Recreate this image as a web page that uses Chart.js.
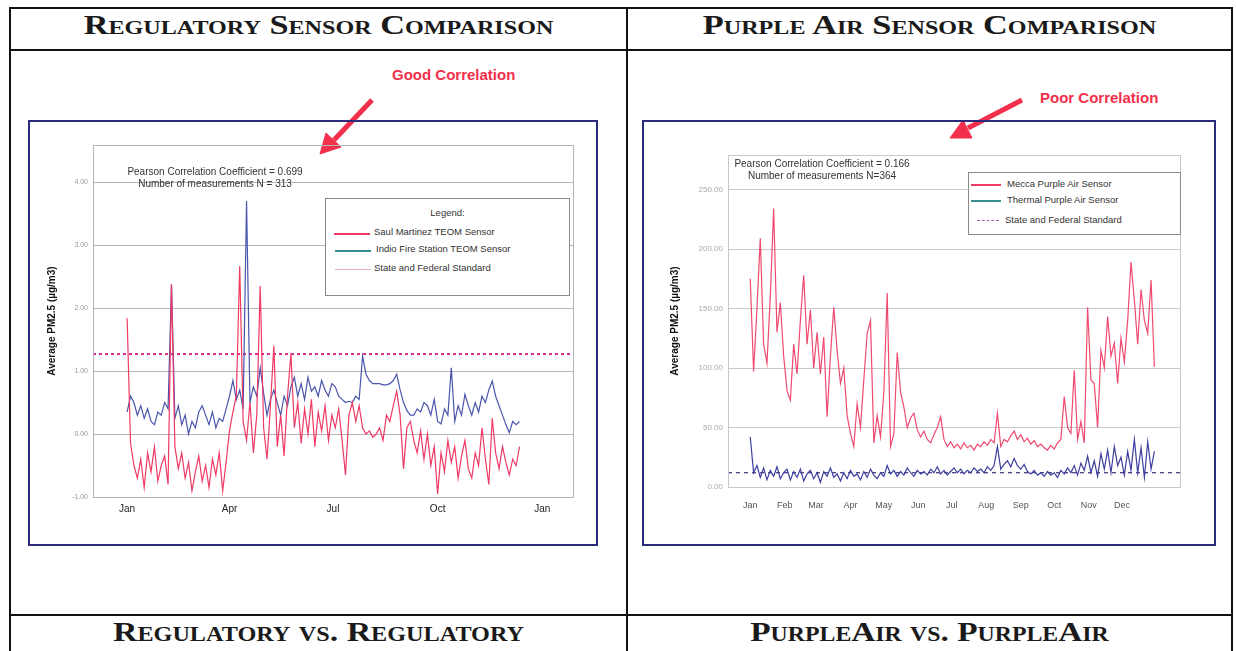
<!DOCTYPE html>
<html>
<head>
<meta charset="utf-8">
<script src="https://cdn.jsdelivr.net/npm/chart.js@4.4.1/dist/chart.umd.min.js"></script>
<style>
body { margin: 0; width: 1236px; height: 651px; background: #fff; position: relative; overflow: hidden; font-family: "Liberation Sans", Arial, sans-serif; }
.ln { position: absolute; background: #111; }
.head { position: absolute; font-family: "Liberation Serif", "DejaVu Serif", serif; font-weight: bold; font-variant: small-caps; color: #1a1a1a; text-align: center; white-space: nowrap; }
.box { position: absolute; border: 2px solid #2b2d7c; box-sizing: border-box; }
.wrap { position: absolute; }
.note { position: absolute; color: #f2304c; font-weight: bold; font-size: 15px; white-space: nowrap; }
.stat { position: absolute; font-size: 10px; color: #333; text-align: center; line-height: 12px; white-space: nowrap; }
.legend { position: absolute; background: #fff; border: 1px solid #8a8a8a; font-size: 9.5px; color: #333; }
.legend .row { position: absolute; white-space: nowrap; }
.legend .sw { position: absolute; height: 0; }
</style>
</head>
<body>
<!-- table frame -->
<div class="ln" style="left:9px;top:7px;width:1224px;height:2px"></div>
<div class="ln" style="left:9px;top:49px;width:1224px;height:2px"></div>
<div class="ln" style="left:9px;top:614px;width:1224px;height:2px"></div>
<div class="ln" style="left:9px;top:7px;width:2px;height:644px"></div>
<div class="ln" style="left:1231px;top:7px;width:2px;height:644px"></div>
<div class="ln" style="left:626px;top:7px;width:2px;height:644px"></div>

<div class="head" style="left:11px;width:615px;top:10px;font-size:27px;transform:scaleX(1.27)">Regulatory Sensor Comparison</div>
<div class="head" style="left:628px;width:603px;top:10px;font-size:27px;transform:scaleX(1.27)">Purple Air Sensor Comparison</div>
<div class="head" style="left:11px;width:615px;top:616px;font-size:28px;transform:scaleX(1.21)">Regulatory vs. Regulatory</div>
<div class="head" style="left:628px;width:603px;top:616px;font-size:28px;transform:scaleX(1.19)">PurpleAir vs. PurpleAir</div>

<div class="note" style="left:392px;top:66px">Good Correlation</div>
<div class="note" style="left:1040px;top:89px">Poor Correlation</div>
<svg style="position:absolute;left:0;top:0" width="1236" height="651">
  <g fill="#f2304c" stroke="#f2304c">
    <line x1="372" y1="100" x2="334" y2="140" stroke-width="5"/>
    <polygon points="320,154 326,133 341,147" stroke-width="1"/>
    <line x1="1022" y1="100" x2="968" y2="128" stroke-width="5"/>
    <polygon points="950,138 963,120 972,138" stroke-width="1"/>
  </g>
</svg>

<div class="box" style="left:28px;top:120px;width:570px;height:426px"></div>
<div class="box" style="left:642px;top:120px;width:574px;height:426px"></div>

<div class="wrap" style="left:30px;top:122px;width:565px;height:421px"><canvas id="left"></canvas></div>
<div class="wrap" style="left:644px;top:122px;width:569px;height:421px"><canvas id="right"></canvas></div>

<div class="stat" style="left:95px;width:240px;top:166px">Pearson Correlation Coefficient = 0.699<br>Number of measurements N = 313</div>
<div class="stat" style="left:722px;width:200px;top:158px">Pearson Correlation Coefficient = 0.166<br>Number of measurements N=364</div>

<div class="legend" style="left:325px;top:198px;width:243px;height:96px">
  <div class="row" style="left:0;width:243px;text-align:center;top:8px">Legend:</div>
  <div class="sw" style="left:8px;top:34px;width:36px;border-top:2px solid #ef3a64"></div>
  <div class="row" style="left:48px;top:27px">Saul Martinez TEOM Sensor</div>
  <div class="sw" style="left:9px;top:51px;width:36px;border-top:2px solid #3b8c8e"></div>
  <div class="row" style="left:50px;top:44px">Indio Fire Station TEOM Sensor</div>
  <div class="sw" style="left:9px;top:70px;width:36px;border-top:1px solid #e8b0c8"></div>
  <div class="row" style="left:48px;top:63px">State and Federal Standard</div>
</div>
<div class="legend" style="left:968px;top:172px;width:211px;height:61px">
  <div class="sw" style="left:2px;top:11px;width:30px;border-top:2px solid #ef3a64"></div>
  <div class="row" style="left:38px;top:5px">Mecca Purple Air Sensor</div>
  <div class="sw" style="left:2px;top:27px;width:30px;border-top:2px solid #3b8c8e"></div>
  <div class="row" style="left:38px;top:21px">Thermal Purple Air Sensor</div>
  <div class="sw" style="left:8px;top:47px;width:22px;border-top:1px dashed #a060c0"></div>
  <div class="row" style="left:36px;top:41px">State and Federal Standard</div>
</div>

<script>
// ---- data: regulatory (TEOM) chart, one value every 3 days from Jan 1 ----
var regStep = 3;
var saulMartinez = [
  1.84, -0.15, -0.5, -0.7, -0.4, -0.85, -0.3, -0.6, -0.2, -0.75,
  -0.5, -0.35, -0.8, 2.38, -0.2, -0.55, -0.3, -0.7, -0.45, -0.9,
  -0.6, -0.35, -0.75, -0.5, -0.85, -0.4, -0.65, -0.3, -0.9, -0.45,
  0.05, 0.35, 0.6, 2.67, 0.2, -0.1, 0.5, -0.3, 0.3, 2.35,
  0.1, -0.4, 0.45, 1.4, -0.2, 0.3, -0.35, 0.6, 1.28, 0.1,
  0.5, -0.15, 0.4, 0.0, 0.55, -0.2, 0.35, 0.05, 0.45, -0.1,
  0.3, 0.1, 0.4, -0.1, -0.65, 0.3, 0.5, 0.2, 0.45, 0.1,
  0.0, 0.05, -0.05, 0.0, 0.1, -0.1, 0.3, 0.2, 0.45, 0.68,
  0.3, -0.55, 0.1, 0.2, -0.1, -0.3, 0.05, -0.4, 0.0, -0.5,
  -0.2, -0.95, -0.3, -0.6, -0.1, -0.45, -0.2, -0.7, -0.35, -0.1,
  -0.55, -0.7, -0.3, -0.5, 0.1, -0.4, -0.8, 0.25, -0.3, -0.55,
  -0.2, -0.45, -0.65, -0.4, -0.5, -0.2
];
var indioFire = [
  0.35, 0.6, 0.5, 0.3, 0.45, 0.25, 0.4, 0.2, 0.15, 0.35,
  0.3, 0.5, 0.4, 2.38, 0.25, 0.45, 0.15, 0.3, 0.0, 0.2,
  0.1, 0.35, 0.45, 0.3, 0.15, 0.35, 0.1, 0.25, 0.2, 0.4,
  0.6, 0.85, 0.55, 0.7, 0.4, 3.7, 0.5, 0.75, 0.6, 1.05,
  0.65, 0.3, 0.55, 0.7, 0.5, 0.3, 0.6, 0.45, 0.75, 0.9,
  0.6, 0.8, 0.55, 0.9, 0.68, 0.75, 0.6, 0.85, 0.7, 0.6,
  0.8, 0.75, 0.6, 0.55, 0.5, 0.52, 0.5, 0.6, 0.55, 1.24,
  0.95, 0.85, 0.8, 0.8, 0.8, 0.78, 0.78, 0.8, 0.85, 0.95,
  0.7, 0.5, 0.37, 0.3, 0.3, 0.4, 0.35, 0.5, 0.45, 0.3,
  0.55, 0.2, 0.16, 0.4, 0.3, 1.05, 0.2, 0.45, 0.3, 0.63,
  0.45, 0.3, 0.5, 0.35, 0.6, 0.5, 0.7, 0.84, 0.6, 0.45,
  0.3, 0.15, 0.02, 0.2, 0.15, 0.2
];
var regStandard = 1.27;
var regYTicks = [-1, 0, 1, 2, 3, 4];
var regXTicks = [0, 90, 181, 273, 365];
var regXLabels = ['Jan', 'Apr', 'Jul', 'Oct', 'Jan'];

// ---- data: PurpleAir chart, one value every 3 days from Jan 1 ----
var paStep = 3;
var mecca = [
  175, 97, 150, 209, 120, 104, 160, 234, 130, 155,
  110, 81, 73, 120, 95, 140, 178, 120, 149, 100,
  130, 95, 126, 59, 110, 151, 115, 87, 100, 60,
  45, 34, 70, 50, 90, 129, 140, 37, 60, 42,
  80, 163, 34, 45, 113, 80, 67, 50, 58, 62,
  48, 42, 47, 40, 37, 44, 50, 59, 40, 34,
  38, 33, 36, 32, 37, 33, 35, 31, 36, 34,
  38, 35, 40, 37, 62, 34, 40, 38, 43, 47,
  40, 44, 38, 41, 36, 39, 34, 36, 33, 31,
  35, 32, 37, 40, 76, 50, 45, 98, 40, 55,
  37, 151, 90, 87, 50, 115, 100, 143, 110, 121,
  87, 125, 105, 140, 189, 157, 120, 166, 140, 129,
  174, 101
];
var thermal = [
  42, 12, 18, 8, 16, 6, 14, 9, 17, 7,
  12, 15, 6, 13, 8, 15, 5, 11, 14, 7,
  12, 4, 13, 9, 16, 8, 11, 5, 12, 7,
  14, 9, 11, 6, 13, 8, 15, 10, 7, 12,
  9, 18, 11, 14, 9, 13, 10, 16, 12, 9,
  14, 11, 13, 10, 15, 12, 17, 11, 14, 10,
  13, 16, 12, 15, 11, 14, 12, 16, 13, 15,
  12, 17, 14, 18, 34, 15, 19, 22, 17, 24,
  18, 15, 19, 13, 11, 14, 10, 12, 9, 13,
  10, 12, 8, 14, 11, 16, 12, 18, 10, 20,
  14, 26, 12, 22, 9, 28, 15, 31, 12, 34,
  18, 25, 10, 30, 14, 40, 12, 33, 8, 38,
  15, 30
];
var paStandard = 12;
var paYTicks = [0, 50, 100, 150, 200, 250];
var paXTicks = [0, 31, 59, 90, 120, 151, 181, 212, 243, 273, 304, 334];
var paXLabels = ['Jan', 'Feb', 'Mar', 'Apr', 'May', 'Jun', 'Jul', 'Aug', 'Sep', 'Oct', 'Nov', 'Dec'];

function toPoints(values, step) {
  return values.map(function(v, i) { return { x: i * step, y: v }; });
}

var frame = {
  id: 'frame',
  afterDraw: function(chart) {
    var a = chart.chartArea, ctx = chart.ctx;
    ctx.save();
    ctx.strokeStyle = chart.options.plugins.frame.color;
    ctx.lineWidth = 1;
    ctx.strokeRect(a.left + 0.5, a.top + 0.5, a.right - a.left, a.bottom - a.top);
    ctx.restore();
  }
};

function makeChart(id, cfg) {
  var xmin = cfg.xRange[0], xmax = cfg.xRange[1];
  return new Chart(document.getElementById(id), {
    type: 'line',
    data: {
      datasets: [
        { data: toPoints(cfg.series[0], cfg.step), borderColor: cfg.colors[0], borderWidth: 1.2, pointRadius: 0, tension: 0 },
        { data: toPoints(cfg.series[1], cfg.step), borderColor: cfg.colors[1], borderWidth: 1.2, pointRadius: 0, tension: 0 },
        { data: [{ x: xmin, y: cfg.standard }, { x: xmax, y: cfg.standard }], borderColor: cfg.stdColor,
          borderWidth: cfg.stdWidth, borderDash: cfg.stdDash, pointRadius: 0 }
      ]
    },
    options: {
      responsive: true,
      maintainAspectRatio: false,
      animation: false,
      layout: { padding: cfg.padding },
      plugins: { legend: { display: false }, tooltip: { enabled: false }, frame: { color: cfg.frameColor } },
      scales: {
        x: {
          type: 'linear', min: xmin, max: xmax,
          afterBuildTicks: function(s) { s.ticks = cfg.xTicks.map(function(v) { return { value: v }; }); },
          afterFit: function(s) { s.height = cfg.xHeight; },
          ticks: {
            autoSkip: false, maxRotation: 0, padding: cfg.xPad,
            color: cfg.xColor, font: { size: cfg.xSize, family: 'Liberation Sans' },
            callback: function(v) { return cfg.xLabels[cfg.xTicks.indexOf(v)]; }
          },
          grid: { display: false, drawTicks: false },
          border: { display: false }
        },
        y: {
          min: cfg.yRange[0], max: cfg.yRange[1],
          afterBuildTicks: function(s) { s.ticks = cfg.yTicks.map(function(v) { return { value: v }; }); },
          afterFit: function(s) { s.width = cfg.yWidth; },
          ticks: {
            padding: 5, color: cfg.yColor, font: { size: cfg.ySize, family: 'Liberation Sans' },
            callback: function(v) { return v.toFixed(2); }
          },
          grid: { color: cfg.gridColor, drawTicks: false },
          border: { display: false },
          title: { display: true, text: 'Average PM2.5 (µg/m3)', color: '#111',
            font: { size: 10, weight: 'bold', family: 'Liberation Sans' }, padding: { top: cfg.titlePad, bottom: 0 } }
        }
      }
    },
    plugins: [frame]
  });
}

makeChart('left', {
  series: [saulMartinez, indioFire], step: regStep,
  colors: ['#ef3a64', '#4a55ad'],
  standard: regStandard, stdColor: '#d42a8c', stdWidth: 2, stdDash: [3, 3],
  xRange: [-30, 392], yRange: [-1, 4.59],
  xTicks: regXTicks, xLabels: regXLabels, yTicks: regYTicks,
  padding: { top: 23, right: 22, left: 0, bottom: 0 },
  xHeight: 46, xPad: 6, xColor: '#222', xSize: 10,
  yWidth: 63, yColor: '#999', ySize: 7,
  gridColor: '#b5b5b5', frameColor: '#b5b5b5', titlePad: 16
});

makeChart('right', {
  series: [mecca, thermal], step: paStep,
  colors: ['#f04a70', '#3d3f9e'],
  standard: paStandard, stdColor: '#3b2f7a', stdWidth: 1.2, stdDash: [4, 4],
  xRange: [-20, 386], yRange: [0, 279],
  xTicks: paXTicks, xLabels: paXLabels, yTicks: paYTicks,
  padding: { top: 33, right: 33, left: 0, bottom: 0 },
  xHeight: 56, xPad: 13, xColor: '#555', xSize: 9,
  yWidth: 84, yColor: '#aaa', ySize: 8,
  gridColor: '#c8c8c8', frameColor: '#c8c8c8', titlePad: 25
});
</script>
</body>
</html>
